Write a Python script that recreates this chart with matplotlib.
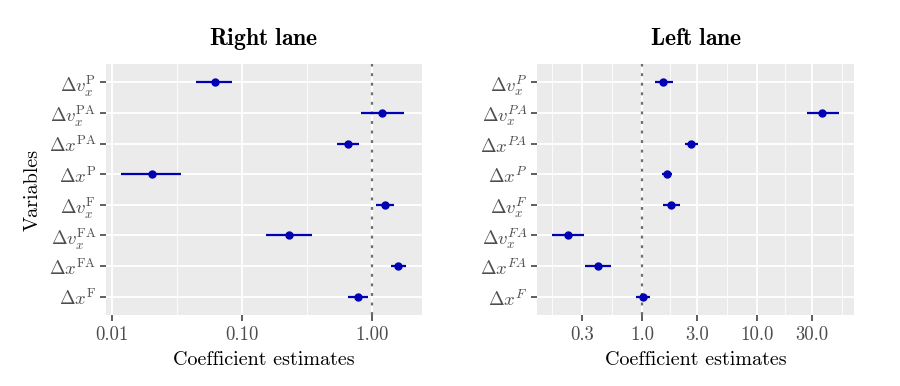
import matplotlib
matplotlib.use("Agg")
import matplotlib.pyplot as plt
import numpy as np

plt.rcParams['mathtext.fontset'] = 'cm'
plt.rcParams['font.family'] = 'serif'
plt.rcParams['font.serif'] = ['cmr10', 'DejaVu Serif']
plt.rcParams['axes.formatter.use_mathtext'] = True

# Variables (top to bottom)
labels_right = [r'$\Delta v_x^{\mathrm{P}}$', r'$\Delta v_x^{\mathrm{PA}}$', r'$\Delta x^{\mathrm{PA}}$',
                r'$\Delta x^{\mathrm{P}}$', r'$\Delta v_x^{\mathrm{F}}$', r'$\Delta v_x^{\mathrm{FA}}$',
                r'$\Delta x^{\mathrm{FA}}$', r'$\Delta x^{\mathrm{F}}$']
labels_left = [r'$\Delta v_x^{P}$', r'$\Delta v_x^{PA}$', r'$\Delta x^{PA}$',
               r'$\Delta x^{P}$', r'$\Delta v_x^{F}$', r'$\Delta v_x^{FA}$',
               r'$\Delta x^{FA}$', r'$\Delta x^{F}$']

# Right lane estimates and confidence intervals
right_est = [0.062, 1.20, 0.658, 0.0203, 1.25, 0.231, 1.59, 0.781]
right_lo = [0.0448, 0.819, 0.542, 0.0118, 1.067, 0.153, 1.39, 0.658]
right_hi = [0.0835, 1.75, 0.795, 0.0338, 1.47, 0.345, 1.84, 0.93]

# Left lane estimates and confidence intervals
left_est = [1.52, 36.7, 2.65, 1.64, 1.78, 0.227, 0.414, 1.01]
left_lo = [1.28, 26.9, 2.35, 1.49, 1.52, 0.165, 0.318, 0.877]
left_hi = [1.84, 51.6, 3.07, 1.81, 2.13, 0.313, 0.537, 1.17]

right_ticks = [0.01, 0.1, 1.0]
right_ticklabels = ['0.01', '0.10', '1.00']
left_ticks = [0.3, 1.0, 3.0, 10.0, 30.0]
left_ticklabels = ['0.3', '1.0', '3.0', '10.0', '30.0']

W, H = 900, 386
fig = plt.figure(figsize=(9, 3.86), dpi=100)

def px_axes(x0, x1, y0, y1):
    return fig.add_axes([x0 / W, 1 - y1 / H, (x1 - x0) / W, (y1 - y0) / H])

ax1 = px_axes(106, 421.7, 64, 315)
ax2 = px_axes(537.3, 854, 64, 315)

point_col = '#0000B4'
n = len(labels_right)
ypos = np.arange(n)[::-1]

def draw(ax, est, lo, hi, labels, ticks, ticklabels, xlim_log, title):
    ax.set_facecolor('#EBEBEB')
    for s in ax.spines.values():
        s.set_visible(False)
    ax.set_xscale('log')
    ax.set_xlim(10 ** xlim_log[0], 10 ** xlim_log[1])
    ax.set_ylim(-0.6, n - 1 + 0.6)
    # grid: majors at ticks, minors at log-midpoints
    lt = np.log10(ticks)
    mids = list((lt[:-1] + lt[1:]) / 2)
    mids = [lt[0] - (lt[1] - lt[0]) / 2] + mids + [lt[-1] + (lt[1] - lt[0]) / 2]
    for m in mids:
        if xlim_log[0] < m < xlim_log[1]:
            ax.axvline(10 ** m, color='white', lw=0.6, zorder=0.5)
    for t in ticks:
        ax.axvline(t, color='white', lw=1.3, zorder=0.6)
    for y in ypos:
        ax.axhline(y, color='white', lw=1.3, zorder=0.6)
    ax.axvline(1.0, color='#6E6E6E', lw=1.6, ls=(0, (1.3, 3)), zorder=1)
    est = np.array(est); lo = np.array(lo); hi = np.array(hi)
    ax.hlines(ypos, lo, hi, color=point_col, lw=1.6, zorder=2)
    ax.plot(est, ypos, 'o', color=point_col, ms=5, zorder=3, mec=point_col)
    ax.set_xticks(ticks)
    ax.set_xticklabels(ticklabels)
    ax.xaxis.set_minor_locator(matplotlib.ticker.NullLocator())
    ax.set_yticks(ypos)
    ax.set_yticklabels(labels)
    ax.tick_params(axis='both', length=4, width=1.1, color='#333333', labelcolor='#4D4D4D', labelsize=13.5)
    ax.tick_params(axis='x', pad=4)
    ax.tick_params(axis='y', pad=3)
    ax.set_xlabel('Coefficient estimates', fontsize=14.5, color='black', labelpad=5)
    ax.set_title(title, fontsize=17, pad=14)

draw(ax1, right_est, right_lo, right_hi, labels_right, right_ticks, right_ticklabels,
     (-2.044, 0.382), r'$\mathbf{Right\ lane}$')
draw(ax2, left_est, left_lo, left_hi, labels_left, left_ticks, left_ticklabels,
     (-0.913, 1.841), r'$\mathbf{Left\ lane}$')
ax1.set_ylabel('Variables', fontsize=14.5, labelpad=5)

fig.savefig('out.png', dpi=100)
